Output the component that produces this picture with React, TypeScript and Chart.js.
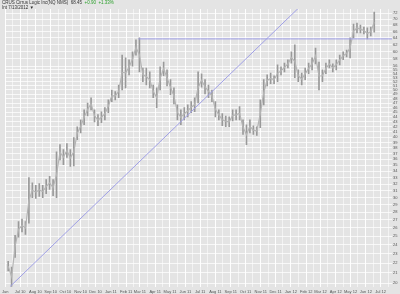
import React, { useEffect, useRef } from 'react';
import { Chart, registerables } from 'chart.js';

Chart.register(...registerables);

// ---------- header ----------
const headerName = 'CRUS Cirrus Logic Inc(NQ NMS)';
const headerLast = '68.45';
const headerChange = '+0.90  +1.33%';
const headerInterval = 'Int 7/13/2012 \u25BC';

// ---------- weekly price ranges (week starting dates) ----------
const firstWeek = '2010-06-07';
const weekHigh = [
  22.2, 21.6, 25.1, 26.8, 27.1, 26.8, 33.0, 32.2, 31.8, 32.1,
  31.8, 32.7, 33.2, 32.7, 37.3, 38.6, 37.7, 38.8, 37.7, 39.9,
  42.0, 43.4, 45.5, 47.0, 48.2, 45.5, 44.5, 45.1, 46.0, 47.7,
  50.0, 49.6, 51.2, 59.0, 58.2, 57.7, 59.9, 63.4, 64.0, 55.5,
  55.5, 54.5, 51.2, 50.5, 55.8, 57.1, 55.0, 52.5, 50.5, 46.6,
  45.5, 46.0, 46.6, 47.3, 48.2, 54.5, 54.0, 52.5, 51.2, 50.0,
  47.3, 45.5, 44.7, 44.2, 44.0, 45.5, 45.5, 46.2, 43.4, 42.4,
  43.4, 42.2, 42.0, 47.7, 52.5, 53.7, 54.2, 53.5, 56.3, 55.8,
  56.8, 57.7, 59.9, 61.9, 55.0, 54.2, 55.5, 56.8, 58.2, 61.0,
  57.1, 55.0, 56.8, 57.7, 56.6, 57.7, 59.0, 59.9, 60.4, 64.0,
  68.3, 68.7, 68.0, 67.4, 67.1, 67.4, 72.3,
];
const weekLow = [
  21.2, 19.7, 22.6, 24.9, 25.5, 25.2, 26.6, 30.0, 29.9, 30.2,
  30.0, 30.6, 31.2, 30.3, 30.0, 35.9, 35.1, 36.3, 34.8, 34.9,
  39.5, 40.8, 42.4, 44.2, 45.5, 43.0, 42.2, 42.8, 43.4, 44.9,
  47.3, 47.7, 48.2, 50.0, 50.5, 53.7, 56.0, 59.0, 54.5, 52.0,
  51.2, 50.5, 48.2, 46.0, 50.0, 53.5, 51.0, 48.9, 46.8, 43.4,
  42.4, 43.4, 44.0, 44.9, 45.1, 47.0, 50.7, 49.1, 48.2, 47.3,
  44.0, 43.4, 42.2, 42.0, 42.0, 43.2, 43.4, 43.4, 40.5, 38.6,
  40.8, 40.5, 40.3, 41.8, 46.6, 51.0, 51.5, 51.5, 52.0, 53.7,
  54.5, 55.5, 56.8, 53.0, 52.0, 51.2, 52.5, 54.0, 55.0, 56.6,
  50.0, 52.0, 54.0, 55.5, 54.5, 55.0, 56.3, 57.7, 58.5, 58.2,
  64.0, 65.5, 65.5, 65.2, 63.7, 64.6, 65.8,
];

// ---------- drawn lines ----------
const trendDates = ['2010-06-11', '2012-02-11'];
const trendPrices = [19.7, 78.1];
const resistanceDates = ['2011-02-26', '2012-07-25'];
const resistancePrices = [63.7, 63.7];

// ---------- axes ----------
const axisStart = '2010-06-01';
const axisEnd = '2012-07-24';
const monthStarts = [
  '2010-06-01', '2010-07-01', '2010-08-01', '2010-09-01', '2010-10-01', '2010-11-01', '2010-12-01',
  '2011-01-01', '2011-02-01', '2011-03-01', '2011-04-01', '2011-05-01', '2011-06-01', '2011-07-01',
  '2011-08-01', '2011-09-01', '2011-10-01', '2011-11-01', '2011-12-01', '2012-01-01', '2012-02-01',
  '2012-03-01', '2012-04-01', '2012-05-01', '2012-06-01', '2012-07-01',
];
const monthLabels = [
  'Jun', 'Jul 10', 'Aug 10', 'Sep 10', 'Oct 10', 'Nov 10', 'Dec 10',
  'Jan 11', 'Feb 11', 'Mar 11', 'Apr 11', 'May 11', 'Jun 11', 'Jul 11',
  'Aug 11', 'Sep 11', 'Oct 11', 'Nov 11', 'Dec 11', 'Jan 12', 'Feb 12',
  'Mar 12', 'Apr 12', 'May 12', 'Jun 12', 'Jul 12',
];
const yTicks = [
  20, 21, 22, 23, 24, 25, 26, 27, 28, 29, 30, 31, 32, 33, 34, 35, 36, 37, 38, 39,
  40, 41, 42, 43, 44, 45, 46, 47, 48, 49, 50, 51, 52, 53, 54, 55, 56, 58, 60, 62,
  64, 66, 68, 70, 72,
];
const yMin = 19.65;
const yMax = 73.4;

const DAY = 86400000;
const dayOf = (d: string) => (Date.parse(d + 'T00:00:00Z') - Date.parse(axisStart + 'T00:00:00Z')) / DAY;

export default function App() {
  const ref = useRef<HTMLCanvasElement>(null);

  useEffect(() => {
    const w0 = dayOf(firstWeek);
    const bars = weekHigh.map((h, i) => ({ x: w0 + 7 * i, y: [weekLow[i], h] }));
    const mids = weekHigh.map((h, i) => ({ x: w0 + 7 * i, y: Math.sqrt(h * weekLow[i]) }));
    const trend = trendDates.map((d, i) => ({ x: dayOf(d), y: trendPrices[i] }));
    const resist = resistanceDates.map((d, i) => ({ x: dayOf(d), y: resistancePrices[i] }));
    const monthDays = monthStarts.map(dayOf);
    const midDays = monthStarts.map((m) => dayOf(m.slice(0, 8) + '16'));
    const tickDays = [...monthDays, ...midDays].sort((a, b) => a - b);
    const labelOf = new Map<number, string>();
    monthDays.forEach((d, i) => labelOf.set(d, monthLabels[i]));

    const bg = {
      id: 'bg',
      beforeDraw(c: any) {
        const ctx = c.ctx;
        ctx.save();
        ctx.fillStyle = '#e4e4e4';
        ctx.fillRect(0, 0, c.width, c.height);
        ctx.restore();
      },
    };

    const chart = new Chart(ref.current!, {
      type: 'bar',
      data: {
        datasets: [
          {
            type: 'bar',
            data: bars as any,
            backgroundColor: '#999999',
            barThickness: 1,
            order: 3,
          } as any,
          {
            type: 'line',
            data: mids as any,
            borderColor: '#b4b4b4',
            borderWidth: 1.2,
            pointRadius: 0,
            tension: 0,
            order: 2,
          },
          {
            type: 'line',
            data: trend as any,
            borderColor: '#a0a0e6',
            borderWidth: 1,
            pointRadius: 0,
            order: 1,
          },
          {
            type: 'line',
            data: resist as any,
            borderColor: '#a0a0e6',
            borderWidth: 1,
            pointRadius: 0,
            order: 1,
          },
        ],
      },
      options: {
        animation: false,
        responsive: false,
        events: [],
        layout: { padding: { top: 9, left: 0, right: 0, bottom: 0 } },
        plugins: { legend: { display: false }, tooltip: { enabled: false } },
        scales: {
          x: {
            type: 'linear',
            min: 0,
            max: dayOf(axisEnd),
            offset: false,
            afterBuildTicks: (s: any) => {
              s.ticks = tickDays.map((v) => ({ value: v }));
            },
            afterFit: (s: any) => {
              s.height = 7;
            },
            ticks: {
              autoSkip: false,
              maxRotation: 0,
              minRotation: 0,
              padding: 2,
              color: '#555',
              font: { size: 4, family: 'Liberation Sans' },
              callback: (v: any) => labelOf.get(v) ?? '',
            },
            grid: {
              offset: false,
              drawTicks: false,
              lineWidth: 1,
              color: (ctx: any) =>
                ctx.tick && labelOf.has(ctx.tick.value) ? 'rgba(255,255,255,0.95)' : 'rgba(255,255,255,0.55)',
            },
            border: { display: false },
          },
          y: {
            type: 'logarithmic',
            position: 'right',
            min: yMin,
            max: yMax,
            beginAtZero: false,
            afterBuildTicks: (s: any) => {
              s.ticks = yTicks.map((v) => ({ value: v }));
            },
            afterFit: (s: any) => {
              s.width = 8;
            },
            ticks: {
              autoSkip: false,
              padding: 1,
              color: '#555',
              font: { size: 4, family: 'Liberation Sans' },
              callback: (v: any) => String(v),
            },
            grid: { drawTicks: false, color: 'rgba(255,255,255,0.75)', lineWidth: 1 },
            border: { display: false },
          },
        },
      } as any,
      plugins: [bg],
    });
    return () => chart.destroy();
  }, []);

  return (
    <div style={{ position: 'fixed', left: 0, top: 0, width: 400, height: 294 }}>
      <canvas ref={ref} width={400} height={294} style={{ display: 'block' }} />
      <div
        style={{
          position: 'absolute',
          left: 2,
          top: 0,
          fontFamily: 'Liberation Sans, Arial, sans-serif',
          fontSize: 4.5,
          lineHeight: '5px',
          color: '#333',
          whiteSpace: 'pre',
        }}
      >
        <div>
          {headerName}  {headerLast}  <span style={{ color: '#2ca02c' }}>{headerChange}</span>
        </div>
        <div>{headerInterval}</div>
      </div>
    </div>
  );
}
